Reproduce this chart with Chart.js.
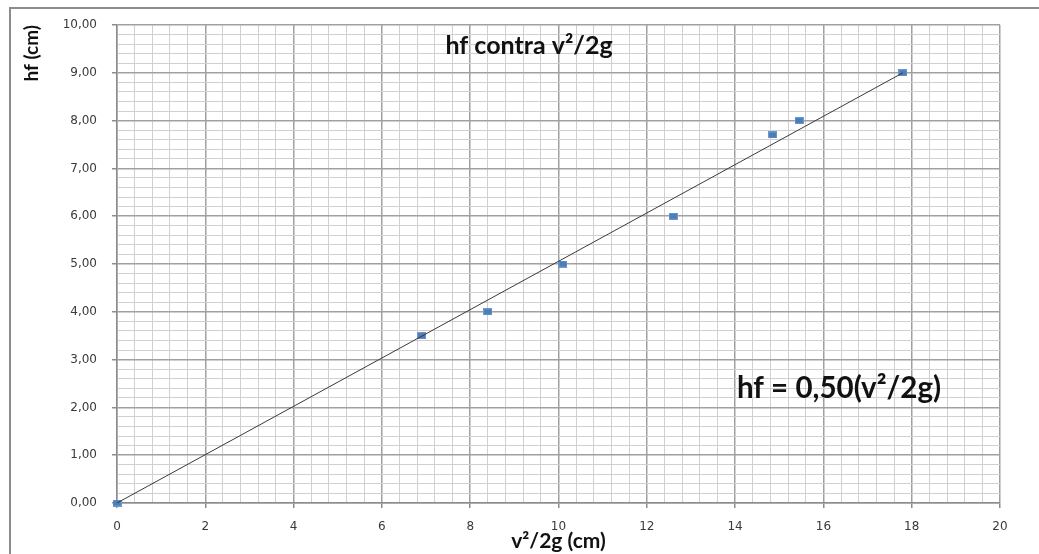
<!DOCTYPE html>
<html>
<head>
<meta charset="utf-8">
<script src="https://cdn.jsdelivr.net/npm/chart.js@4.4.1/dist/chart.umd.min.js"></script>
<style>
    html, body { margin: 0; padding: 0; background: #fff; }
    #wrap { position: relative; width: 1039px; height: 554px; }
</style>
</head>
<body>
<div id="wrap"><canvas id="chart" width="1039" height="554"></canvas></div>
<script>
// Datos
const velHead = [0, 6.9, 8.4, 10.1, 12.6, 14.85, 15.45, 17.8];   // v²/2g (cm)
const hfValues = [0, 3.5, 4.0, 5.0, 6.0, 7.7, 8.0, 9.0];          // hf (cm)

// Recta de ajuste hf = 0,50(v²/2g)
const trendX = [0, 17.8];
const trendY = [0, 9.0];

// Marcas principales de los ejes
const xMajor = [0, 2, 4, 6, 8, 10, 12, 14, 16, 18, 20];
const xTickLabels = ['0', '2', '4', '6', '8', '10', '12', '14', '16', '18', '20'];
const yMajor = [0, 1, 2, 3, 4, 5, 6, 7, 8, 9, 10];
const yTickLabels = ['0,00', '1,00', '2,00', '3,00', '4,00', '5,00', '6,00', '7,00', '8,00', '9,00', '10,00'];

const chartTitle = 'hf contra v²/2g';
const equationText = 'hf = 0,50(v²/2g)';

// Busca si el valor es una marca principal
function majorIndex(list, v) {
    return list.findIndex(m => Math.abs(m - v) < 1e-6);
}

// Marcador rectangular tipo Excel
const marker = document.createElement('canvas');
marker.width = 9;
marker.height = 7;
const mctx = marker.getContext('2d');
mctx.fillStyle = '#6f97c9';
mctx.fillRect(0, 0, 9, 7);
mctx.fillStyle = '#4a7ebb';
mctx.fillRect(1, 1, 7, 5);

// Marco y textos dentro del gráfico
const decorPlugin = {
    id: 'decor',
    beforeDraw(chart) {
        const ctx = chart.ctx;
        ctx.save();
        ctx.strokeStyle = '#8c8c8c';
        ctx.lineWidth = 2;
        ctx.beginPath();
        ctx.moveTo(10, 554);
        ctx.lineTo(10, 8);
        ctx.lineTo(1039, 8);
        ctx.stroke();
        ctx.restore();
    },
    afterDraw(chart) {
        const ctx = chart.ctx;
        ctx.save();
        ctx.fillStyle = '#111';
        ctx.textBaseline = 'alphabetic';
        ctx.font = 'bold 25px Lato';
        ctx.textAlign = 'center';
        ctx.fillText(chartTitle, 529, 54);
        ctx.font = 'bold 29.5px Lato';
        ctx.textAlign = 'left';
        ctx.fillText(equationText, 737, 398);
        ctx.restore();
    }
};

const gridColor = (list) => (c) => majorIndex(list, c.tick.value) >= 0 ? '#a0a0a0' : '#d0d0d0';
const gridWidth = (list) => (c) => majorIndex(list, c.tick.value) >= 0 ? 1.5 : 1;
const tickColor = (list) => (c) => majorIndex(list, c.tick.value) >= 0 ? '#8c8c8c' : 'rgba(0,0,0,0)';

const ctx = document.getElementById('chart').getContext('2d');
new Chart(ctx, {
    type: 'scatter',
    data: {
        datasets: [{
            type: 'line',
            label: 'ajuste',
            data: trendX.map((x, i) => ({ x: x, y: trendY[i] })),
            borderColor: '#3a3a3a',
            borderWidth: 1,
            pointRadius: 0,
            fill: false
        }, {
            label: 'hf',
            data: velHead.map((x, i) => ({ x: x, y: hfValues[i] })),
            pointStyle: marker,
            pointRadius: 4,
            clip: false
        }]
    },
    options: {
        responsive: false,
        animation: false,
        devicePixelRatio: 1,
        layout: {
            padding: { left: 0, right: 39, top: 25, bottom: 0 }
        },
        plugins: {
            legend: { display: false },
            tooltip: { enabled: false }
        },
        scales: {
            x: {
                type: 'linear',
                min: 0,
                max: 20,
                afterFit: (scale) => { scale.height = 51; },
                ticks: {
                    stepSize: 0.4,
                    autoSkip: false,
                    maxRotation: 0,
                    padding: 12,
                    color: '#3a3a3a',
                    font: { family: 'DejaVu Sans', size: 12 },
                    callback: (v) => {
                        const i = majorIndex(xMajor, v);
                        return i >= 0 ? xTickLabels[i] : '';
                    }
                },
                grid: {
                    color: gridColor(xMajor),
                    lineWidth: gridWidth(xMajor),
                    tickColor: tickColor(xMajor),
                    tickLength: 5
                },
                border: { color: '#8c8c8c', width: 1.5 },
                title: {
                    display: true,
                    text: 'v²/2g (cm)',
                    color: '#111',
                    font: { family: 'Lato', size: 21, weight: 'bold' },
                    padding: { top: 1, bottom: 0 }
                }
            },
            y: {
                type: 'linear',
                min: 0,
                max: 10,
                afterFit: (scale) => { scale.width = 117; },
                ticks: {
                    stepSize: 0.2,
                    autoSkip: false,
                    padding: 15,
                    color: '#3a3a3a',
                    font: { family: 'DejaVu Sans', size: 12 },
                    callback: (v) => {
                        const i = majorIndex(yMajor, v);
                        return i >= 0 ? yTickLabels[i] : '';
                    }
                },
                grid: {
                    color: gridColor(yMajor),
                    lineWidth: gridWidth(yMajor),
                    tickColor: tickColor(yMajor),
                    tickLength: 5
                },
                border: { color: '#8c8c8c', width: 1.5 },
                title: {
                    display: true,
                    text: 'hf (cm)',
                    align: 'end',
                    color: '#111',
                    font: { family: 'Lato', size: 19, weight: 'bold' },
                    padding: { top: 20, bottom: 0 }
                }
            }
        }
    },
    plugins: [decorPlugin]
});
</script>
</body>
</html>
